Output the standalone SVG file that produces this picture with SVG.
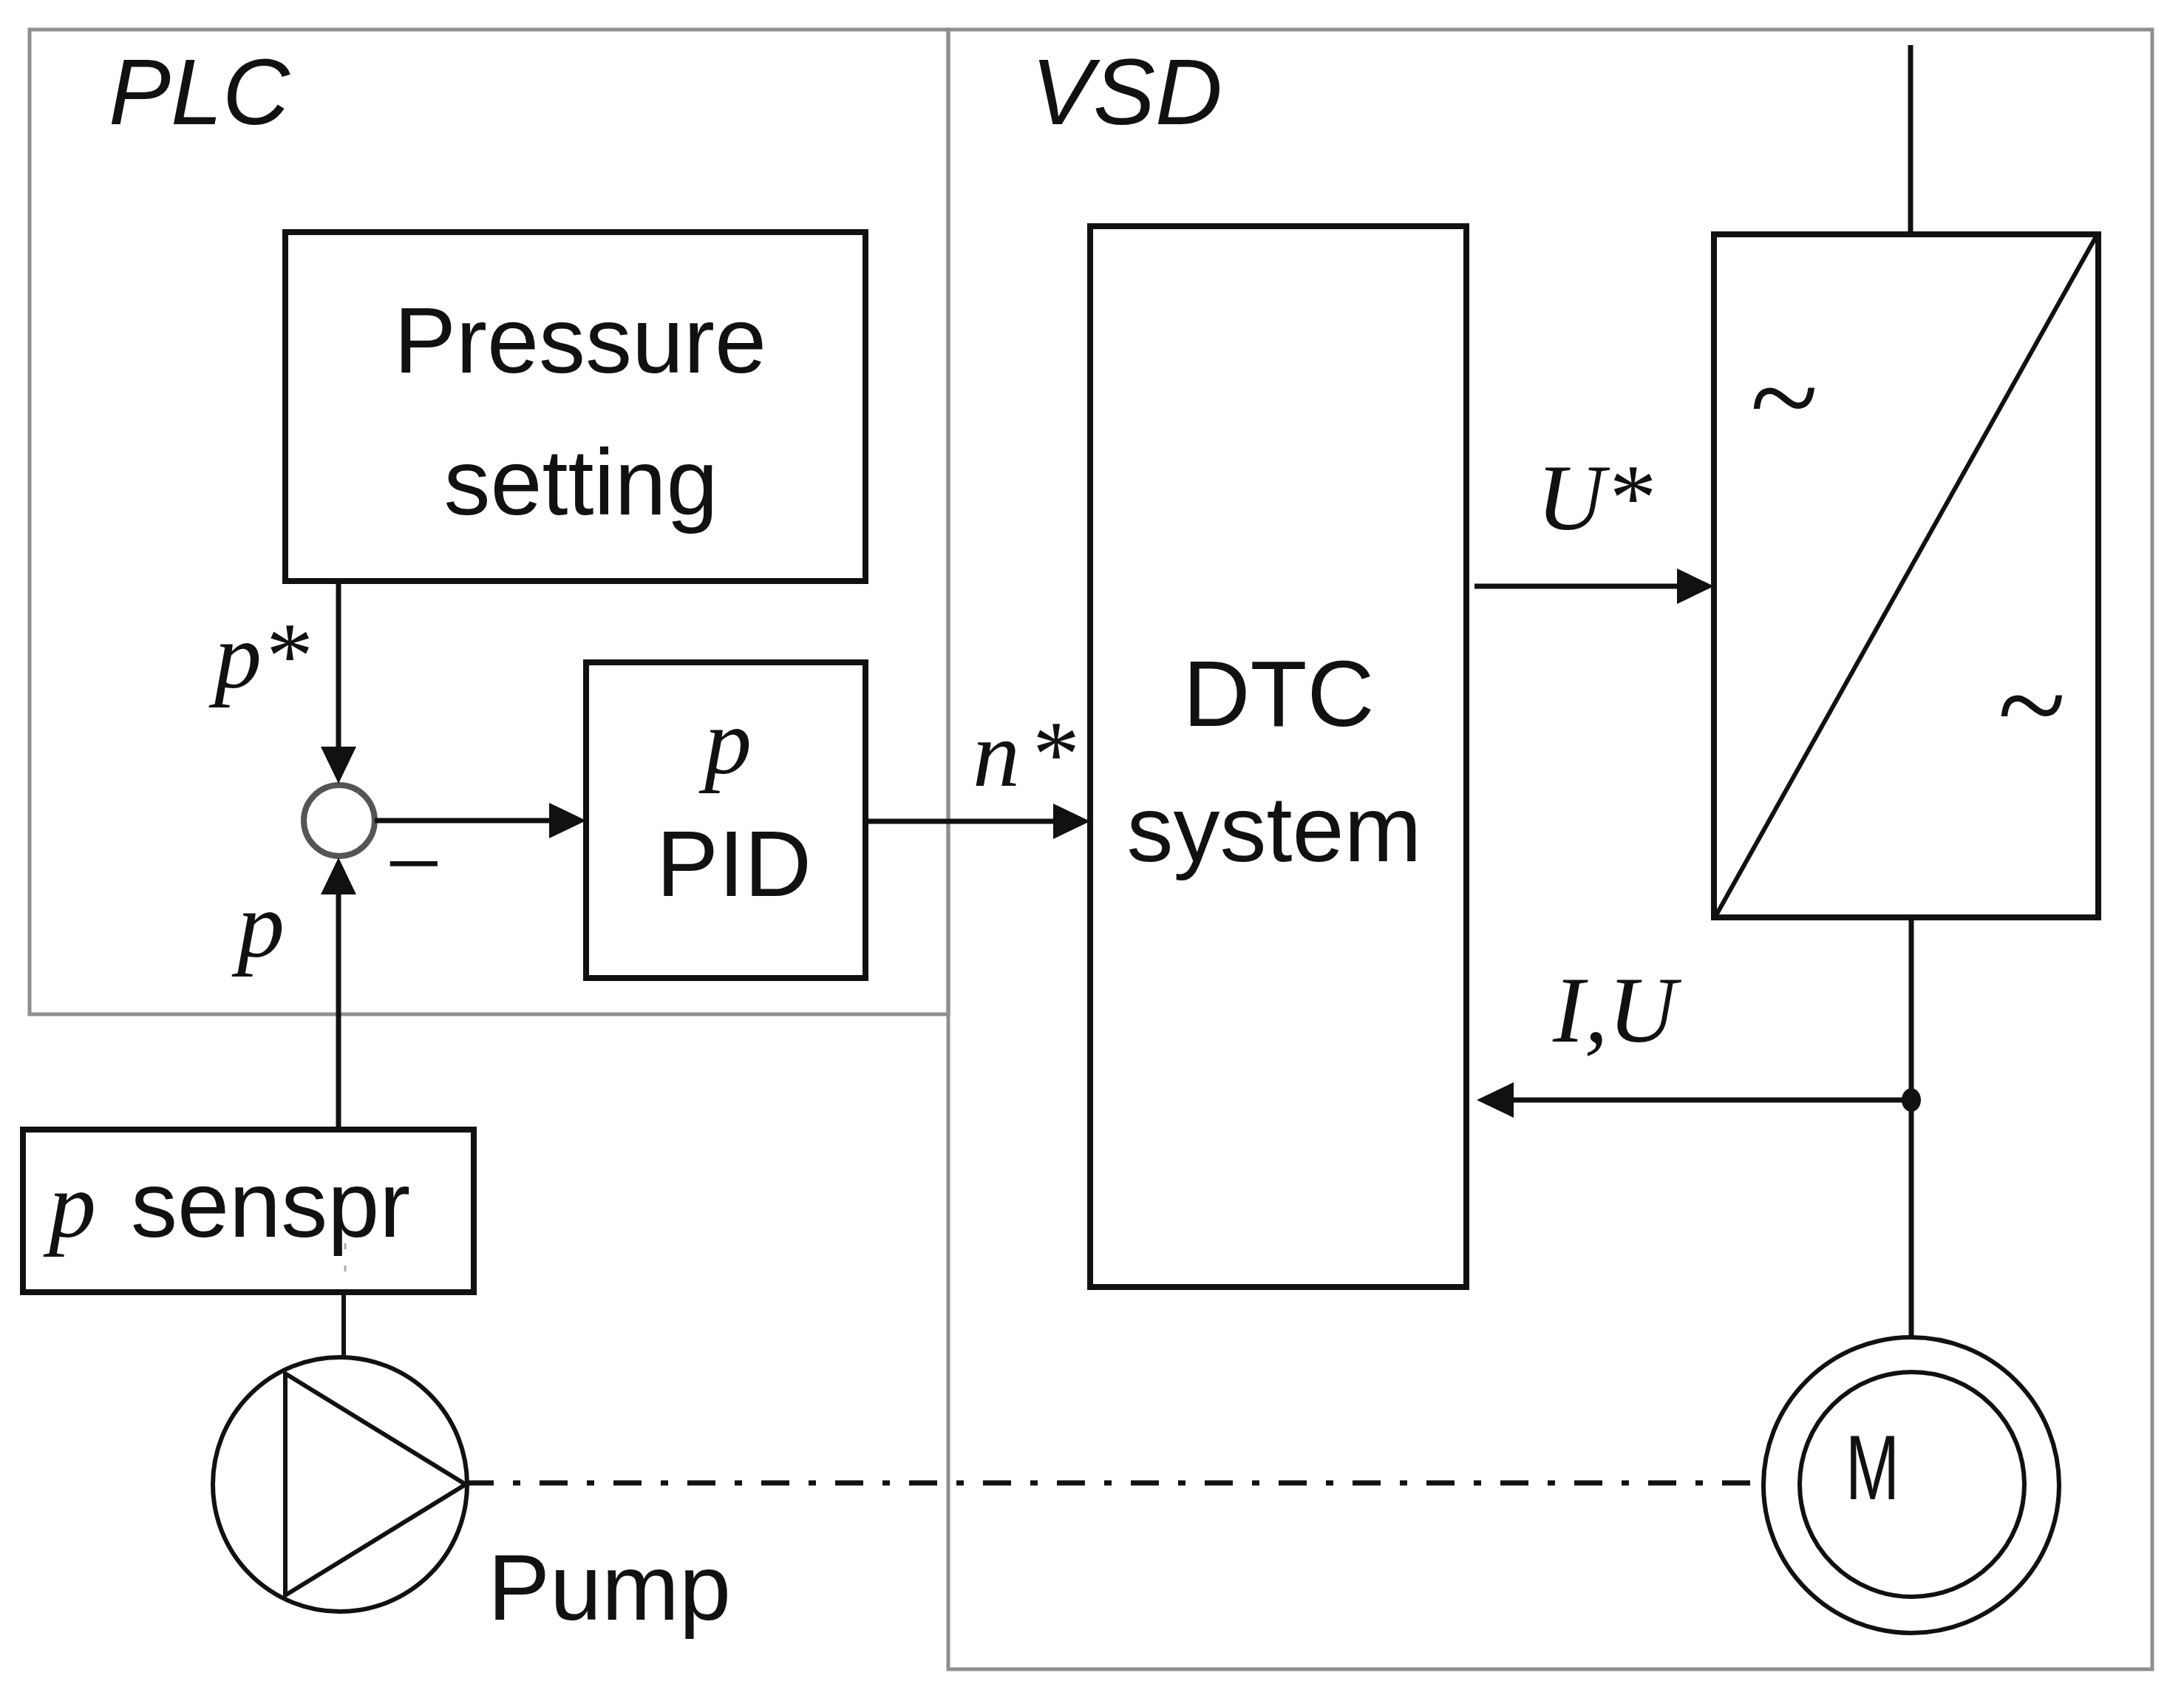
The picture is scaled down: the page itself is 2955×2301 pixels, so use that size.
<svg xmlns="http://www.w3.org/2000/svg" width="2955" height="2301" viewBox="0 0 2955 2301">
<style>
.box{fill:none;stroke:#111;stroke-width:8}
.area{fill:none;stroke:#8f8f8f;stroke-width:5}
.ln{fill:none;stroke:#111;stroke-width:7}
.thin{fill:none;stroke:#111;stroke-width:6}
.sans{font-family:"Liberation Sans",Arial,sans-serif;font-size:126px;fill:#111}
.ital{font-family:"Liberation Sans",Arial,sans-serif;font-style:italic;font-size:126px;fill:#111}
.var{font-family:"Liberation Serif","Times New Roman",serif;font-style:italic;font-size:128px;fill:#111}
.mid{text-anchor:middle}
.tilde{font-family:"Liberation Serif","Times New Roman",serif;font-size:170px;fill:#111}
</style>
<defs>
<marker id="arr" markerUnits="userSpaceOnUse" markerWidth="52" markerHeight="50" refX="10" refY="24" orient="auto">
<path d="M0,0 L50,24 L0,48 z" fill="#111"/>
</marker>
</defs>
<rect width="2955" height="2301" fill="#fff"/>

<g id="plc">
<rect class="area" x="40" y="40" width="1243" height="1332"/>
<text class="ital" x="147" y="168">PLC</text>
</g>
<g id="vsd">
<rect class="area" x="1283" y="40" width="1629" height="2218"/>
<text class="ital" x="1395" y="168">VSD</text>
</g>

<g id="pressure-setting">
<rect class="box" x="386" y="314" width="785" height="472"/>
<text class="sans mid" x="785" y="504">Pressure</text>
<text class="sans mid" x="786" y="696">setting</text>
</g>

<g id="sum">
<circle cx="459" cy="1110" r="48" fill="none" stroke="#555" stroke-width="8"/>
<text class="var" x="512" y="1214" style="font-size:138px">−</text>
</g>

<g id="pid">
<rect class="box" x="793" y="896" width="378" height="427"/>
<text class="var mid" x="985" y="1046">p</text>
<text class="sans mid" x="993" y="1212">PID</text>
</g>

<g id="dtc">
<rect class="box" x="1475" y="306" width="509" height="1435"/>
<text class="sans mid" x="1730" y="982">DTC</text>
<text class="sans mid" x="1724" y="1165">system</text>
</g>

<g id="converter">
<rect class="box" x="2319" y="317" width="520" height="924"/>
<line class="thin" x1="2322" y1="1238" x2="2836" y2="320"/>
<text class="tilde" x="2368" y="595">~</text>
<text class="tilde" x="2703" y="1011">~</text>
</g>

<g id="sensor">
<rect class="box" x="31" y="1528" width="610" height="220"/>
<line x1="467" y1="1682" x2="467" y2="1740" stroke="#aaa" stroke-width="3" stroke-dasharray="8 22"/>
<text class="var" x="66" y="1673">p</text>
<text class="sans" x="177" y="1673">senspr</text>
</g>

<g id="pump">
<circle class="thin" cx="460" cy="2008" r="172"/>
<path class="thin" d="M386,1858 L386,2158 L630,2008 Z" stroke-linejoin="miter"/>
<text class="sans" x="660" y="2191">Pump</text>
</g>

<g id="motor">
<circle class="thin" cx="2586" cy="2009" r="200"/>
<circle class="thin" cx="2587" cy="2008" r="152"/>
<text class="sans" x="2497" y="2028" style="font-size:124px" textLength="73" lengthAdjust="spacingAndGlyphs">M</text>
</g>

<g id="connectors">
<line class="ln" x1="458" y1="786" x2="458" y2="1020" marker-end="url(#arr)"/>
<line class="ln" x1="458" y1="1528" x2="458" y2="1200" marker-end="url(#arr)"/>
<line class="ln" x1="507" y1="1110" x2="753" y2="1110" marker-end="url(#arr)"/>
<line class="ln" x1="1171" y1="1111" x2="1435" y2="1111" marker-end="url(#arr)"/>
<line class="ln" x1="1995" y1="793" x2="2279" y2="793" marker-end="url(#arr)"/>
<line class="ln" x1="2586" y1="1488" x2="2038" y2="1488" marker-end="url(#arr)"/>
<ellipse cx="2586" cy="1488" rx="13" ry="16" fill="#111"/>
<line class="ln" x1="2585" y1="61" x2="2585" y2="317"/>
<line class="ln" x1="2586" y1="1241" x2="2586" y2="1809"/>
<line class="thin" x1="465" y1="1748" x2="465" y2="1837"/>
<line x1="630" y1="2006" x2="2386" y2="2006" stroke="#111" stroke-width="7" stroke-dasharray="38 26 10 26"/>
<text class="var" x="290" y="930">p*</text>
<text class="var" x="321" y="1294">p</text>
<text class="var" x="1316" y="1063">n<tspan x="1391">*</tspan></text>
<text class="var" x="2079" y="716">U*</text>
<text class="var" x="2101" y="1409">I,U</text>
</g>
</svg>
